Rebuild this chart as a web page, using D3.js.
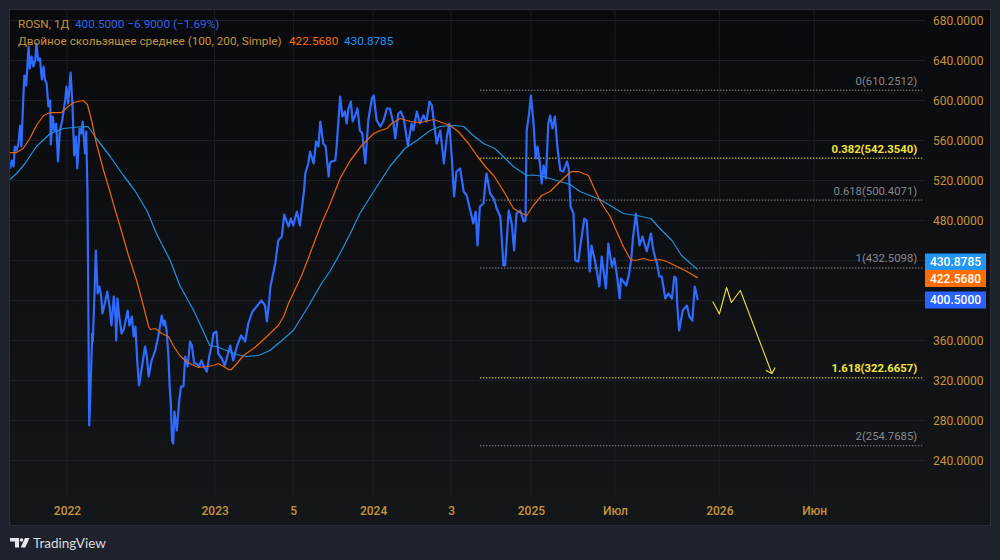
<!DOCTYPE html>
<html><head><meta charset="utf-8">
<script src="https://cdn.jsdelivr.net/npm/d3@7"></script>
<style>
html,body{margin:0;padding:0;background:#1e222d;overflow:hidden}
svg{display:block}
text{font-family:Roboto,"Noto Sans",sans-serif}
</style></head><body><svg id="c" width="1000" height="560"></svg>
<script>
// Session number on the horizontal axis, then value
const priceSeries = [[0,532],[3,540],[6,534],[8,554],[11,550],[14,557],[17,575],[19,554],[22,600],[24,625],[27,615],[31,654],[33,632],[36,644],[39,634],[42,640],[44,657],[47,640],[50,642],[53,621],[56,634],[58,621],[61,617],[64,594],[67,600],[68,556],[71,584],[74,570],[77,577],[80,539],[83,570],[87,580],[92,600],[94,614],[97,597],[101,628],[104,597],[107,545],[110,564],[112,532],[116,572],[119,567],[121,579],[125,547],[127,569],[129,510],[130,437],[132,275],[134,309],[137,367],[138,359],[141,410],[143,450],[146,407],[149,414],[152,404],[154,387],[158,397],[162,409],[166,394],[169,375],[173,404],[176,380],[177,360],[179,402],[182,384],[186,367],[190,372],[196,390],[199,375],[203,384],[206,364],[209,374],[212,340],[215,315],[220,334],[225,354],[228,344],[231,324],[236,340],[242,350],[247,364],[253,385],[256,375],[258,380],[261,370],[264,344],[266,315],[268,297],[270,260],[272,257],[274,289],[278,270],[282,300],[285,314],[289,314],[292,344],[296,334],[300,359],[303,355],[307,337],[311,337],[315,334],[319,340],[323,334],[328,329],[332,344],[336,355],[339,367],[344,369],[347,347],[353,342],[358,335],[367,355],[372,340],[378,354],[385,365],[392,359],[397,377],[404,389],[411,394],[419,400],[425,395],[428,379],[431,394],[434,414],[442,437],[447,460],[453,464],[457,486],[464,474],[468,482],[472,475],[478,489],[483,475],[486,490],[490,510],[492,527],[497,537],[500,549],[506,537],[510,559],[514,554],[517,579],[522,557],[526,554],[531,524],[533,537],[536,539],[542,540],[544,552],[547,577],[550,604],[554,584],[558,589],[561,577],[564,592],[568,599],[571,579],[575,585],[579,592],[583,570],[587,567],[592,537],[597,580],[603,602],[606,605],[611,580],[617,574],[622,579],[628,592],[633,592],[639,577],[642,562],[647,587],[651,589],[656,582],[663,555],[669,577],[672,570],[678,589],[683,577],[689,585],[694,579],[699,599],[703,595],[706,580],[711,557],[717,570],[723,537],[728,564],[732,577],[736,544],[740,504],[744,529],[750,532],[756,509],[761,505],[767,490],[772,477],[776,489],[779,455],[783,494],[789,497],[792,517],[794,527],[800,507],[806,502],[811,492],[817,484],[821,447],[822,435],[825,435],[831,490],[836,477],[840,450],[844,487],[850,490],[856,479],[859,480],[861,570],[865,587],[868,605],[872,580],[876,542],[879,554],[883,537],[886,517],[889,535],[893,522],[897,577],[900,585],[904,572],[908,584],[912,554],[917,530],[922,529],[928,539],[931,532],[934,494],[939,487],[942,440],[947,439],[951,457],[957,482],[961,480],[966,429],[969,455],[975,439],[982,414],[986,444],[993,412],[997,457],[1003,434],[1007,442],[1011,427],[1016,402],[1018,422],[1022,419],[1027,415],[1031,425],[1035,440],[1038,462],[1043,487],[1049,455],[1054,464],[1061,449],[1068,467],[1072,450],[1078,437],[1082,424],[1086,424],[1092,402],[1097,407],[1103,402],[1107,424],[1110,422],[1112,394],[1115,370],[1121,390],[1128,395],[1132,384],[1137,380],[1141,414],[1146,400.5]];
const ma100 = [[0,548],[11,548],[22,552],[33,562],[44,575],[56,585],[67,588],[86,588],[97,594],[106,598],[122,600],[129,596],[136,580],[144,557],[156,530],[166,510],[175,491],[186,469],[197,446],[211,420],[220,400],[231,374],[234,371],[242,372],[253,367],[264,364],[272,355],[283,345],[292,340],[303,336],[314,333],[328,334],[339,335],[347,337],[356,334],[364,331],[369,331],[378,337],[389,345],[408,353],[428,364],[447,375],[456,384],[464,397],[486,425],[500,447],[519,477],[533,496],[550,522],[567,540],[586,555],[606,567],[617,570],[628,572],[636,577],[650,582],[667,579],[683,578],[706,581],[733,575],[747,569],[764,557],[778,545],[792,534],[806,525],[822,510],[839,492],[847,489],[861,485],[872,495],[886,505],[900,509],[917,519],[931,527],[936,529],[947,529],[964,525],[972,514],[983,500],[989,494],[1000,484],[1011,469],[1022,454],[1034,441],[1042,440],[1056,442],[1067,440],[1083,441],[1094,439],[1108,435],[1128,429],[1146,422.6]];
const ma200 = [[0,521],[11,527],[25,537],[44,554],[67,567],[89,572],[122,574],[130,574],[144,562],[167,544],[189,525],[208,510],[228,490],[244,467],[267,440],[283,415],[306,390],[333,355],[344,354],[361,350],[378,346],[394,344],[414,345],[433,350],[453,360],[472,370],[497,394],[519,417],[533,429],[550,447],[567,467],[583,487],[606,509],[633,534],[658,552],[678,560],[700,570],[717,574],[739,575],[756,574],[772,565],[789,557],[808,552],[822,544],[839,534],[861,525],[872,525.5],[889,524],[911,520],[933,516],[950,509],[983,501],[1000,495],[1022,487],[1044,485],[1068,482],[1083,472],[1103,460],[1119,445],[1146,430.9]];
const forecast = [[1171,399],[1182,386.5],[1194,413],[1202,398],[1217,410],[1269.5,327]];
const arrowHead = [[1259.5,330],[1269.5,327],[1275,333]];
const fibRatios = ["0","0.382","0.618","1","1.618","2"];
const fibPrices = [610.2512,542.3540,500.4071,432.5098,322.6657,254.7685];
const fibHighlighted = [false,true,false,false,true,false];
const fibStart = 783, fibEnd = 1520;
const yTicks = [680,640,600,560,520,480,440,400,360,320,280,240];
const yTickLabels = [680,640,600,560,520,480,360,320,280,240];
const xTickSessions = [95,341,472,605,735,868,1008,1182,1340];
const xTickLabels = ["2022","2023","5","2024","3","2025","Июл","2026","Июн"];
const lastValues = {price:400.5, change:-6.9, changePct:-1.69, fast:422.5680, slow:430.8785};

const C = {price:"#2f6bff",fast:"#e8650a",slow:"#2390d8",gold:"#c6943a",grid:"#1c1f23",fib:"#85888d",yel:"#f2e33a"};
const svg = d3.select("#c");
const x = d3.scaleLinear().domain([0,1523]).range([10,924]);
const y = d3.scaleLinear().domain([240,680]).range([460.5,20.5]);

const defs = svg.append("defs");
const g = defs.append("linearGradient").attr("id","bg").attr("x1",0).attr("y1",0).attr("x2",0).attr("y2",1);
g.append("stop").attr("offset",0).attr("stop-color","#090a0d");
g.append("stop").attr("offset",1).attr("stop-color","#14171a");
defs.append("clipPath").attr("id","plot").append("rect").attr("x",10).attr("y",10).attr("width",980).attr("height",515);

svg.append("rect").attr("width",1000).attr("height",560).attr("fill","#1e222d");
svg.append("rect").attr("x",9.5).attr("y",9.5).attr("width",981).attr("height",516).attr("fill","url(#bg)").attr("stroke","#2a2e39");

// Axes and grid
const yAxis = d3.axisRight(y).tickValues(yTicks).tickSize(0).tickPadding(0)
  .tickFormat(d => yTickLabels.includes(d) ? d.toFixed(4) : "");
const ya = svg.append("g").attr("transform","translate(933,0)").call(yAxis);
ya.select(".domain").remove();
ya.selectAll("text").attr("fill",C.gold).attr("font-size",12).attr("x",0);
svg.append("g").selectAll("line").data(yTicks).join("line")
  .attr("x1",10).attr("x2",925).attr("y1",d=>y(d)).attr("y2",d=>y(d)).attr("stroke",C.grid);

const xAxis = d3.axisBottom(x).tickValues(xTickSessions).tickSize(0).tickPadding(0)
  .tickFormat((d,i)=>xTickLabels[i]);
const xa = svg.append("g").attr("transform","translate(0,504)").call(xAxis);
xa.select(".domain").remove();
xa.selectAll("text").attr("fill",C.gold).attr("font-size",12).attr("font-weight",500).attr("y",0).attr("dy","0.9em");
svg.append("g").selectAll("line").data(xTickSessions).join("line")
  .attr("x1",d=>x(d)).attr("x2",d=>x(d)).attr("y1",10).attr("y2",497).attr("stroke",C.grid);

// Fibonacci levels
const fib = svg.append("g");
fibPrices.forEach((p,i)=>{
  const hi = fibHighlighted[i];
  fib.append("line").attr("x1",x(fibStart)).attr("x2",x(fibEnd)).attr("y1",y(p)).attr("y2",y(p))
    .attr("stroke",hi?C.yel:C.fib).attr("stroke-width",1).attr("stroke-dasharray","1.5 1.5");
  fib.append("text").attr("x",x(fibEnd)-5).attr("y",y(p)-5.5).attr("text-anchor","end")
    .attr("font-size",11.3).attr("font-weight",hi?700:400).attr("fill",hi?C.yel:C.fib)
    .text(`${fibRatios[i]}(${p.toFixed(4)})`);
});

// Lines
const line = d3.line().x(d=>x(d[0])).y(d=>y(d[1]));
const marks = svg.append("g").attr("clip-path","url(#plot)").attr("fill","none").attr("stroke-linejoin","round");
marks.append("path").attr("d",line(priceSeries)).attr("stroke",C.price).attr("stroke-width",2.2);
marks.append("path").attr("d",line(ma200)).attr("stroke",C.slow).attr("stroke-width",1.25);
marks.append("path").attr("d",line(ma100)).attr("stroke",C.fast).attr("stroke-width",1.25);
marks.append("path").attr("d",line(forecast)).attr("stroke",C.yel).attr("stroke-width",1.1);
marks.append("path").attr("d",line(arrowHead)).attr("stroke",C.yel).attr("stroke-width",1.1);

// Price tags
const tags = [[lastValues.slow,"#2196f3",262],[lastValues.fast,"#ff6d00",278.5],[lastValues.price,"#2962ff",300]];
const tg = svg.append("g");
tags.forEach(([v,col,cy])=>{
  tg.append("rect").attr("x",925).attr("y",cy-8.5).attr("width",61).attr("height",17).attr("fill",col);
  tg.append("text").attr("x",955.5).attr("y",cy).attr("dy","0.36em").attr("text-anchor","middle")
    .attr("fill","#fff").attr("font-size",12).attr("font-weight",500).text(v.toFixed(4));
});

// Legend
const leg = svg.append("g").attr("font-size",11.75);
const l1 = leg.append("text").attr("x",18).attr("y",28);
l1.append("tspan").attr("fill",C.gold).text("ROSN, 1Д");
l1.append("tspan").attr("x",75).attr("fill","#2f62e8")
  .text(`${lastValues.price.toFixed(4)}  −${Math.abs(lastValues.change).toFixed(4)} (−${Math.abs(lastValues.changePct)}%)`);
const l2 = leg.append("text").attr("x",18).attr("y",45);
l2.append("tspan").attr("fill",C.gold).text("Двойное скользящее среднее (100, 200, Simple)");
l2.append("tspan").attr("x",289).attr("fill","#ff6d00").text(lastValues.fast.toFixed(4));
l2.append("tspan").attr("x",344).attr("fill","#2196f3").text(lastValues.slow.toFixed(4));

// Brand
const b = svg.append("g").attr("fill","#e6e7ea");
b.append("path").attr("d","M10 538h9v9.5h-4v-6h-5z");
b.append("circle").attr("cx",21.5).attr("cy",540).attr("r",1.8);
b.append("path").attr("d","M25 538h4.5l-4.2 9.5h-4.6z");
svg.append("text").attr("x",33).attr("y",547.5).attr("font-size",13.5).attr("fill","#d8dade")
  .attr("style","font-family:Lato,Roboto,sans-serif").text("TradingView");
</script></body></html>
